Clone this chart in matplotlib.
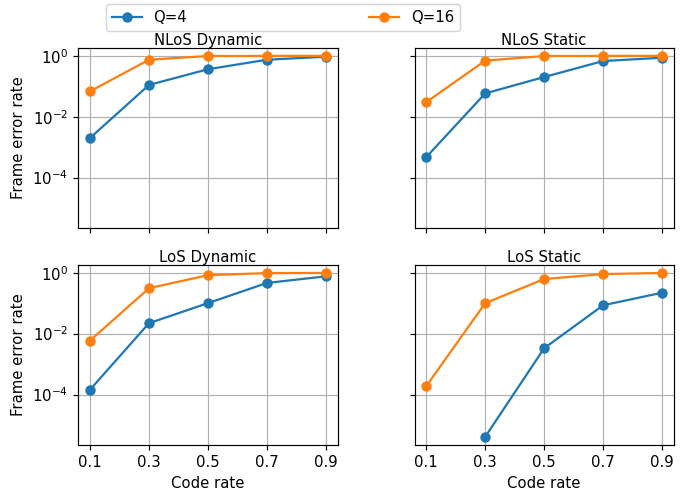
import numpy as np
import matplotlib
matplotlib.use("Agg")
import matplotlib.pyplot as plt
from matplotlib.ticker import FixedLocator, NullLocator

code_rates = [0.1, 0.3, 0.5, 0.7, 0.9]
titles = ["NLoS Dynamic", "NLoS Static", "LoS Dynamic", "LoS Static"]
y_ticks = [1e0, 1e-2, 1e-4]

nlos_dyn_q4 = [2.0e-3, 0.11, 0.36, 0.74, 0.93]
nlos_dyn_q16 = [0.068, 0.74, 0.98, 0.985, 0.99]
nlos_sta_q4 = [4.7e-4, 0.058, 0.20, 0.67, 0.86]
nlos_sta_q16 = [0.030, 0.69, 0.98, 0.985, 0.99]
los_dyn_q4 = [1.45e-4, 0.022, 0.10, 0.46, 0.76]
los_dyn_q16 = [5.9e-3, 0.31, 0.83, 0.97, 0.98]
los_sta_q4 = [np.nan, 4.1e-6, 3.3e-3, 0.085, 0.22]
los_sta_q16 = [1.9e-4, 0.10, 0.62, 0.90, 0.98]

q4_data = [nlos_dyn_q4, nlos_sta_q4, los_dyn_q4, los_sta_q4]
q16_data = [nlos_dyn_q16, nlos_sta_q16, los_dyn_q16, los_sta_q16]

DPI = 107
fig, axes = plt.subplots(2, 2, sharex=True, sharey=True,
                         figsize=(694 / DPI, 491 / DPI), dpi=DPI)
fig.subplots_adjust(left=0.1128, right=0.9708, top=0.9029, bottom=0.0937,
                    wspace=0.297, hspace=0.203)

for ax, t, d4, d16 in zip(axes.flat, titles, q4_data, q16_data):
    ax.plot(code_rates, d4, marker="o", color="#1f77b4", label="Q=4")
    ax.plot(code_rates, d16, marker="o", color="#ff7f0e", label="Q=16")
    ax.set_yscale("log")
    ax.set_title(t, pad=1.8, fontsize=10)
    ax.grid(True)

axes[0, 0].yaxis.set_major_locator(FixedLocator(y_ticks))
axes[0, 0].yaxis.set_minor_locator(NullLocator())
axes[0, 0].set_xticks(code_rates)
axes[0, 0].set_xticklabels([str(c) for c in code_rates])
for ax in axes[:, 0]:
    ax.set_ylabel("Frame error rate")
for ax in axes[1, :]:
    ax.set_xlabel("Code rate")

handles, labels = axes[0, 0].get_legend_handles_labels()
fig.legend(handles, labels, loc="upper left",
           bbox_to_anchor=(106 / 694, 1 - 4 / 491, 354 / 694, 0.0),
           mode="expand", ncol=2, borderaxespad=0)

fig.savefig("out.png", dpi=DPI)
